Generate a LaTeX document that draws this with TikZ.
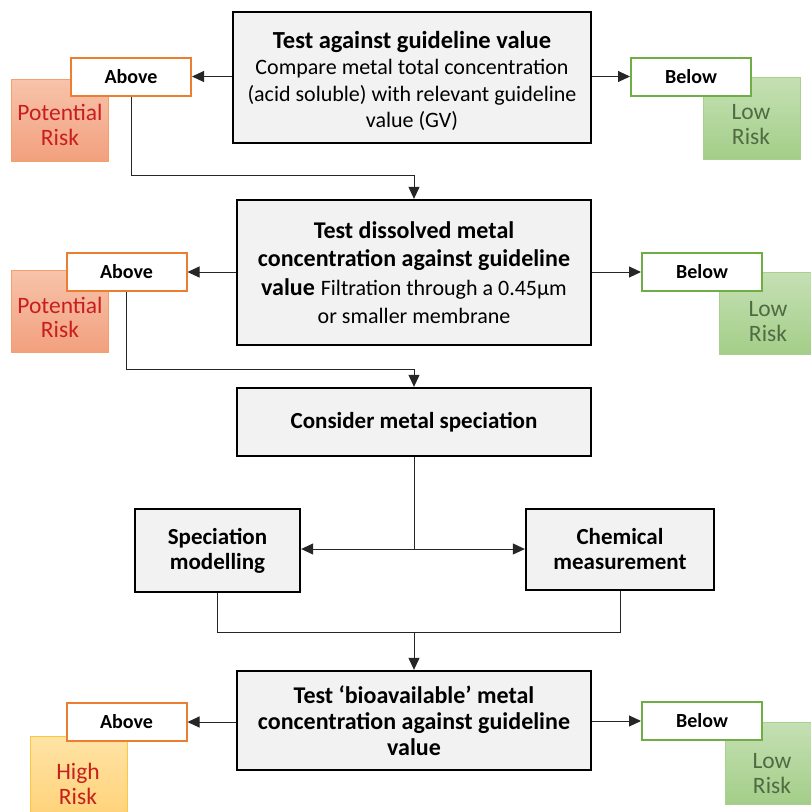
\documentclass[tikz,border=0pt]{standalone}
\usepackage{fontspec}
\setmainfont{Carlito}
\usetikzlibrary{arrows.meta}
\definecolor{boxfill}{HTML}{F2F2F2}
\definecolor{orangeb}{HTML}{ED7D31}
\definecolor{greenb}{HTML}{70AD47}
\definecolor{riskred}{HTML}{C81E1E}
\definecolor{prtop}{HTML}{F7C3AA}
\definecolor{prbot}{HTML}{F2A07E}
\definecolor{prline}{HTML}{F4A06C}
\definecolor{lrtop}{HTML}{C5E0B4}
\definecolor{lrbot}{HTML}{A3CE88}
\definecolor{lrline}{HTML}{A9D18E}
\definecolor{lrtext}{HTML}{506B44}
\definecolor{hrtop}{HTML}{FFE3A6}
\definecolor{hrbot}{HTML}{FFD278}
\definecolor{hrline}{HTML}{FFC740}
\definecolor{conn}{HTML}{262626}
\begin{document}
\begin{tikzpicture}[x=1pt,y=-1pt,
 mainbox/.style={draw=black, line width=2.3pt, fill=boxfill, align=center, inner sep=0pt},
 smallbox/.style={fill=white, line width=2pt, inner sep=0pt, minimum width=120pt, minimum height=38pt, font=\fontsize{20}{24}\selectfont\bfseries},
 abovebox/.style={smallbox, draw=orangeb},
 belowbox/.style={smallbox, draw=greenb},
 riskbox/.style={inner sep=0pt, line width=1pt, minimum width=97pt, minimum height=82pt},
 prisk/.style={riskbox, draw=prline, top color=prtop, bottom color=prbot},
 lrisk/.style={riskbox, draw=lrline, top color=lrtop, bottom color=lrbot},
 hrisk/.style={riskbox, draw=hrline, top color=hrtop, bottom color=hrbot},
 risktext/.style={align=center, inner sep=0pt, font=\fontsize{23.5}{24.5}\selectfont},
 arr/.style={draw=conn, line width=1pt, -{Triangle[length=12pt,width=11pt]}},
 conline/.style={draw=conn, line width=1pt}]
\clip (0,0) rectangle (811,812);
% risk boxes
\node[prisk] (p1) at (59.5,120.5) {};
\node[risktext, text=riskred] (p1t) at (60,125) {Potential\\Risk};
\node[lrisk] (l1) at (751.5,118) {};
\node[risktext, text=lrtext] (l1t) at (751,124.5) {Low\\Risk};
\node[prisk] (p2) at (60,311.5) {};
\node[risktext, text=riskred] (p2t) at (60,317.5) {Potential\\Risk};
\node[lrisk] (l2) at (767.5,313) {};
\node[risktext, text=lrtext] (l2t) at (768,321.5) {Low\\Risk};
\node[hrisk] (h3) at (78.5,777) {};
\node[risktext, text=riskred] (h3t) at (78,784) {High\\Risk};
\node[lrisk] (l3) at (773.5,763) {};
\node[risktext, text=lrtext] (l3t) at (772,773.5) {Low\\Risk};
% small boxes
\node[abovebox] (a1) at (131,76.5) {Above};
\node[belowbox] (w1) at (691,76.5) {Below};
\node[abovebox] (a2) at (126.5,272) {Above};
\node[belowbox] (w2) at (702,272) {Below};
\node[abovebox] (a3) at (126.5,722) {Above};
\node[belowbox] (w3) at (702,721) {Below};
% main boxes
\node[mainbox, minimum width=358pt, minimum height=131pt, font=\fontsize{22}{26.5}\selectfont] (b1) at (412,77.5)
 {{\fontsize{24.5}{28}\selectfont\bfseries\rule{0pt}{24pt}Test against guideline value}\\Compare metal total concentration\\(acid soluble) with relevant guideline\\value (GV)};
\node[mainbox, minimum width=354pt, minimum height=145pt, font=\fontsize{24}{28.5}\selectfont\bfseries] (b2) at (414,272.5)
 {Test dissolved metal\\concentration against guideline\\value\hspace{6pt}{\mdseries\fontsize{22}{28.5}\selectfont Filtration through a 0.45µm}\\{\mdseries\fontsize{22}{28.5}\selectfont or smaller membrane}};
\node[mainbox, minimum width=354pt, minimum height=68pt, font=\fontsize{23}{27}\selectfont\bfseries] (b3) at (414,422) {Consider metal speciation};
\node[mainbox, minimum width=165pt, minimum height=83pt, font=\fontsize{23}{25}\selectfont\bfseries] (s1) at (217.5,550.5) {Speciation\\modelling};
\node[mainbox, minimum width=188pt, minimum height=81pt, font=\fontsize{23}{25}\selectfont\bfseries] (c1) at (620,549.5) {Chemical\\measurement};
\node[mainbox, minimum width=354pt, minimum height=99pt, font=\fontsize{24}{26}\selectfont\bfseries] (b4) at (414,720.5)
 {Test ‘bioavailable’ metal\\concentration against guideline\\value};
% junctions
\coordinate (j1) at (414,175);
\coordinate (j2) at (414,369);
\coordinate (j3) at (414,549);
\coordinate (j4) at (414,632);
% connectors
\draw[arr] (a1.east -| b1.west) -- (a1.east);
\draw[arr] (w1.west -| b1.east) -- (w1.west);
\draw[arr] (a1.south) |- (j1) -- (b2.north);
\draw[arr] (a2.east -| b2.west) -- (a2.east);
\draw[arr] (w2.west -| b2.east) -- (w2.west);
\draw[arr] (a2.south) |- (j2) -- (b3.north);
\draw[conline] (b3.south) -- (j3);
\draw[arr] (j3) -- (s1.east |- j3);
\draw[arr] (j3) -- (c1.west |- j3);
\draw[conline] (s1.south) |- (j4);
\draw[conline] (c1.south) |- (j4);
\draw[arr] (j4) -- (b4.north);
\draw[arr] (a3.east -| b4.west) -- (a3.east);
\draw[arr] (w3.west -| b4.east) -- (w3.west);
\end{tikzpicture}
\end{document}
